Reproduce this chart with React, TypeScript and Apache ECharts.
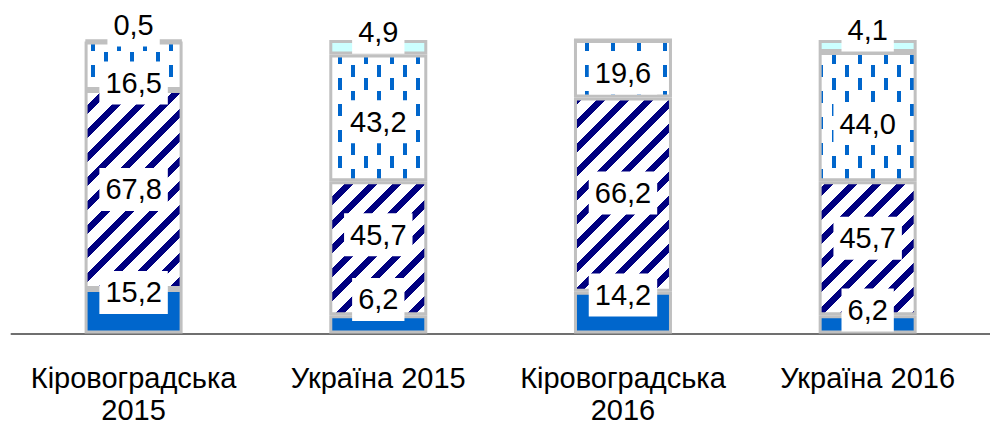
import React, { useEffect, useRef } from 'react';
import * as echarts from 'echarts';

// ---- data ----
const categories = ['Кіровоградська\n2015', 'Україна 2015', 'Кіровоградська\n2016', 'Україна 2016'];
const shareSolid = [15.2, 6.2, 14.2, 6.2];
const shareHatched = [67.8, 45.7, 66.2, 45.7];
const shareDashed = [16.5, 43.2, 19.6, 44.0];
const shareLight = [0.5, 4.9, 0, 4.1];
const yMin = 0;
const yMax = 100;

// ---- label vertical shifts (style, px) ----
const shiftSolid = [-20.7, -27, -19.6, -16.4];
const shiftHatched = [-2, -15.5, -3.7, -12];
const shiftDashed = [15.3, 2, 2.3, 5];
const shiftLight = [-17.8, -17, 0, -18];

const FONT = '"Liberation Sans", Arial, Helvetica, sans-serif';
const BORDER = '#c0c0c0';

function makeTile(w: number, h: number, paint: (x: number, y: number) => boolean, fg: string): string {
  const c = document.createElement('canvas');
  c.width = w;
  c.height = h;
  const ctx = c.getContext('2d') as CanvasRenderingContext2D;
  ctx.fillStyle = '#ffffff';
  ctx.fillRect(0, 0, w, h);
  ctx.fillStyle = fg;
  for (let y = 0; y < h; y++) {
    for (let x = 0; x < w; x++) {
      if (paint(x, y)) ctx.fillRect(x, y, 1, 1);
    }
  }
  return c.toDataURL();
}

export default function App() {
  const ref = useRef<HTMLDivElement>(null);

  useEffect(() => {
    if (!ref.current) return;
    const chart = echarts.init(ref.current, undefined, { renderer: 'svg' });

    const hatchUrl = makeTile(24, 24, (x, y) => (x + y) % 24 < 9, '#000080');
    const dashUrl = makeTile(
      26,
      26,
      (x, y) => (x < 4 && y < 12) || (x >= 13 && x < 17 && y >= 13 && y < 25),
      '#0066cc'
    );

    const hatchPattern: any = { image: hatchUrl, repeat: 'repeat', imageWidth: 24, imageHeight: 24 };
    const dashPattern: any = { image: dashUrl, repeat: 'repeat', imageWidth: 26, imageHeight: 26 };

    const padTop = 5;
    const padBottom = 9;
    const adj = (padBottom - padTop) / 2;

    const fmt = (p: any) => Number(p.value).toFixed(1).replace('.', ',');

    const mkSeries = (name: string, values: number[], shifts: number[], color: any) => ({
      name,
      type: 'bar',
      stack: 'total',
      barWidth: 98,
      itemStyle: { color, borderColor: BORDER, borderWidth: 3 },
      label: {
        show: true,
        position: 'inside',
        formatter: fmt,
        color: '#000',
        fontSize: 29,
        lineHeight: 29,
        fontFamily: FONT,
        backgroundColor: '#ffffff',
        padding: [padTop, 6, padBottom, 6],
      },
      data: values.map((v, i) => ({
        value: v,
        label: { show: v > 0, offset: [0, shifts[i] + adj] },
      })),
    });

    const option: any = {
      animation: false,
      backgroundColor: '#ffffff',
      grid: { left: 11.25, right: -7.25, top: 40, bottom: 93.5, containLabel: false },
      xAxis: {
        type: 'category',
        data: categories,
        axisTick: { show: false },
        axisLine: { show: true, lineStyle: { color: '#404040', width: 1.5 } },
        axisLabel: {
          interval: 0,
          color: '#000',
          fontSize: 29,
          lineHeight: 32,
          fontFamily: FONT,
          margin: 28,
        },
      },
      yAxis: { type: 'value', min: yMin, max: yMax, show: false, splitLine: { show: false } },
      series: [
        mkSeries('s1', shareSolid, shiftSolid, '#0066cc'),
        mkSeries('s2', shareHatched, shiftHatched, hatchPattern),
        mkSeries('s3', shareDashed, shiftDashed, dashPattern),
        mkSeries('s4', shareLight, shiftLight, '#ccffff'),
      ],
    };

    chart.setOption(option);
    return () => {
      chart.dispose();
    };
  }, []);

  return (
    <div
      ref={ref}
      style={{ position: 'fixed', left: 0, top: 0, width: 990, height: 427, background: '#fff' }}
    />
  );
}
